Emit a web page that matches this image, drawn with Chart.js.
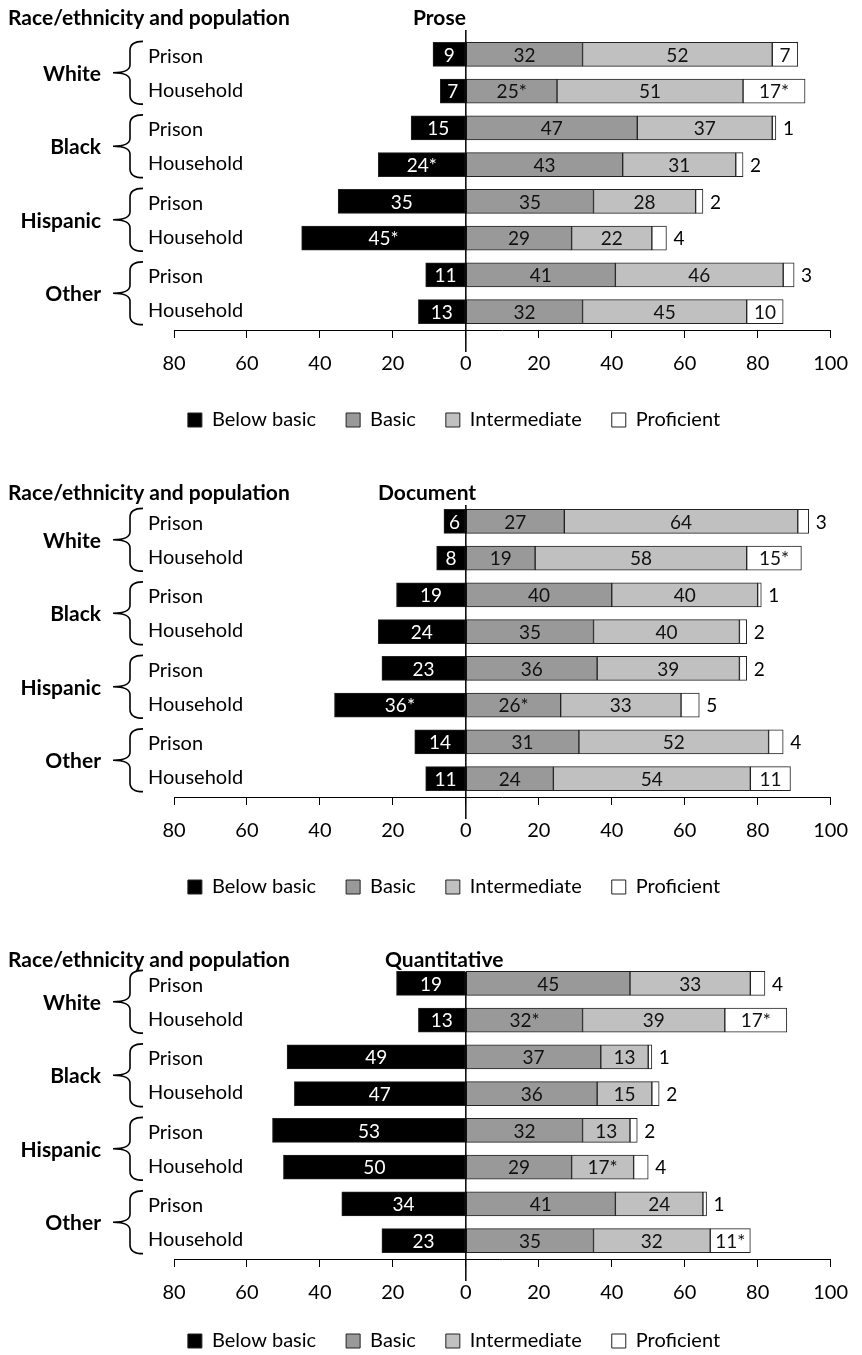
<!DOCTYPE html>
<html>
<head>
<meta charset="utf-8">
<script src="https://cdn.jsdelivr.net/npm/chart.js@4.4.1/dist/chart.umd.min.js"></script>
<style>
  html, body { margin: 0; padding: 0; background: #fff; width: 862px; height: 1355px; overflow: hidden; }
  .panel { position: absolute; left: 0; }
</style>
</head>
<body>
<canvas id="c0" class="panel" width="862" height="466" style="top:0px"></canvas>
<canvas id="c1" class="panel" width="862" height="466" style="top:467px"></canvas>
<canvas id="c2" class="panel" width="862" height="466" style="top:929px"></canvas>
<script>
// ---- data ----
const groups = ['White', 'Black', 'Hispanic', 'Other'];
const populations = ['Prison', 'Household'];
const rowLabels = ['Prison', 'Household', 'Prison', 'Household', 'Prison', 'Household', 'Prison', 'Household'];
const levels = ['Below basic', 'Basic', 'Intermediate', 'Proficient'];
const panelTitles = ['Prose', 'Document', 'Quantitative'];

// rows: White prison, White household, Black prison, Black household, Hispanic ..., Other ...
const proseBelow = [9, 7, 15, 24, 35, 45, 11, 13];
const proseBasic = [32, 25, 47, 43, 35, 29, 41, 32];
const proseInter = [52, 51, 37, 31, 28, 22, 46, 45];
const proseProf = [7, 17, 1, 2, 2, 4, 3, 10];
const proseStars = [[1, 1], [1, 3], [3, 0], [5, 0]]; // [row, level] marked with *

const docBelow = [6, 8, 19, 24, 23, 36, 14, 11];
const docBasic = [27, 19, 40, 35, 36, 26, 31, 24];
const docInter = [64, 58, 40, 40, 39, 33, 52, 54];
const docProf = [3, 15, 1, 2, 2, 5, 4, 11];
const docStars = [[1, 3], [5, 0], [5, 1]];

const quantBelow = [19, 13, 49, 47, 53, 50, 34, 23];
const quantBasic = [45, 32, 37, 36, 32, 29, 41, 35];
const quantInter = [33, 39, 13, 15, 13, 17, 24, 32];
const quantProf = [4, 17, 1, 2, 2, 4, 1, 11];
const quantStars = [[1, 1], [1, 3], [5, 2], [7, 3]];

// ---- style ----
const FONT = 'Lato, "Open Sans", sans-serif';
const colors = ['#000000', '#999999', '#c0c0c0', '#ffffff'];
Chart.defaults.font.family = FONT;
Chart.defaults.color = '#000';

function drawBrace(ctx, yTop, yBot) {
  const tip = 143, stem = 130, point = 113;
  const mid = (yTop + yBot) / 2;
  ctx.beginPath();
  ctx.moveTo(tip, yTop);
  ctx.quadraticCurveTo(stem, yTop, stem, yTop + 9);
  ctx.lineTo(stem, mid - 8);
  ctx.quadraticCurveTo(stem, mid, point, mid);
  ctx.quadraticCurveTo(stem, mid, stem, mid + 8);
  ctx.lineTo(stem, yBot - 9);
  ctx.quadraticCurveTo(stem, yBot, tip, yBot);
  ctx.stroke();
}

const decorPlugin = {
  id: 'decor',
  afterDatasetsDraw(chart, args, opts) {
    const ctx = chart.ctx;
    const xs = chart.scales.x, ys = chart.scales.y;
    const area = chart.chartArea;
    ctx.save();

    // zero line, starts just under the title
    const x0 = xs.getPixelForValue(0);
    ctx.strokeStyle = '#000';
    ctx.lineWidth = 1.5;
    ctx.beginPath();
    ctx.moveTo(x0, opts.titleY + 12);
    ctx.lineTo(x0, area.bottom + 22);
    ctx.stroke();

    // value labels
    ctx.font = '19px ' + FONT;
    ctx.textBaseline = 'middle';
    chart.data.datasets.forEach((ds, di) => {
      chart.getDatasetMeta(di).data.forEach((bar, i) => {
        const v = Math.abs(ds.data[i]);
        const star = opts.stars.some(s => s[0] === i && s[1] === di) ? '*' : '';
        const w = Math.abs(bar.x - bar.base);
        if (di < 3 || w >= 24) {
          ctx.textAlign = 'center';
          ctx.fillStyle = di === 0 ? '#fff' : '#111';
          ctx.fillText(v + star, (bar.x + bar.base) / 2, bar.y + 1);
        } else {
          ctx.textAlign = 'left';
          ctx.fillStyle = '#000';
          ctx.fillText(v + star, bar.x + 7, bar.y + 1);
        }
      });
    });

    // titles
    ctx.font = 'bold 21px ' + FONT;
    ctx.textAlign = 'left';
    ctx.fillStyle = '#000';
    ctx.fillText('Race/ethnicity and population', 8, opts.titleY);
    ctx.fillText(opts.title, opts.titleX, opts.titleY);

    // group labels, braces, row labels
    ctx.lineWidth = 1.6;
    groups.forEach((g, gi) => {
      const yP = ys.getPixelForValue(gi * 2);
      const yH = ys.getPixelForValue(gi * 2 + 1);
      ctx.font = 'bold 21px ' + FONT;
      ctx.textAlign = 'right';
      ctx.fillText(g, 101, (yP + yH) / 2 + 1);
      drawBrace(ctx, yP - 13, yH + 13);
      ctx.font = '20px ' + FONT;
      ctx.textAlign = 'left';
      ctx.fillText(populations[0], 148, yP + 2);
      ctx.fillText(populations[1], 148, yH - 1);
    });
    ctx.restore();
  }
};

const panels = [
  { id: 'c0', title: panelTitles[0], below: proseBelow, basic: proseBasic, inter: proseInter, prof: proseProf, stars: proseStars, titleX: 413, titleY: 18, axisH: 50 },
  { id: 'c1', title: panelTitles[1], below: docBelow, basic: docBasic, inter: docInter, prof: docProf, stars: docStars, titleX: 378, titleY: 26, axisH: 50 },
  { id: 'c2', title: panelTitles[2], below: quantBelow, basic: quantBasic, inter: quantInter, prof: quantProf, stars: quantStars, titleX: 385, titleY: 31, axisH: 42 }
];

panels.forEach(p => {
  const series = [p.below.map(v => -v), p.basic, p.inter, p.prof];
  new Chart(document.getElementById(p.id), {
    type: 'bar',
    plugins: [decorPlugin],
    data: {
      labels: rowLabels,
      datasets: levels.map((name, i) => ({
        label: name,
        data: series[i],
        backgroundColor: colors[i],
        borderColor: '#222',
        borderWidth: 1,
        borderSkipped: false,
        barThickness: 24
      }))
    },
    options: {
      indexAxis: 'y',
      responsive: false,
      animation: false,
      events: [],
      layout: { padding: { left: 74, right: 28, top: 36, bottom: 466 - 36 - 294 - p.axisH - 60 } },
      plugins: {
        tooltip: { enabled: false },
        title: { display: false },
        legend: {
          position: 'bottom',
          labels: { boxWidth: 14, boxHeight: 14, padding: 30, color: '#000', font: { size: 20 } }
        },
        decor: { title: p.title, stars: p.stars, titleX: p.titleX, titleY: p.titleY }
      },
      scales: {
        x: {
          stacked: true,
          min: -80,
          max: 100,
          afterFit: s => { s.height = p.axisH; },
          ticks: { stepSize: 20, padding: 14, color: '#000', font: { size: 20 }, callback: v => Math.abs(v) },
          grid: { display: true, drawOnChartArea: false, drawTicks: true, tickLength: 8, color: '#000', lineWidth: 1 },
          border: { display: true, color: '#000', width: 1 }
        },
        y: {
          stacked: true,
          afterFit: s => { s.width = 100; },
          ticks: { display: false },
          grid: { display: false },
          border: { display: false }
        }
      }
    }
  });
});
</script>
</body>
</html>
